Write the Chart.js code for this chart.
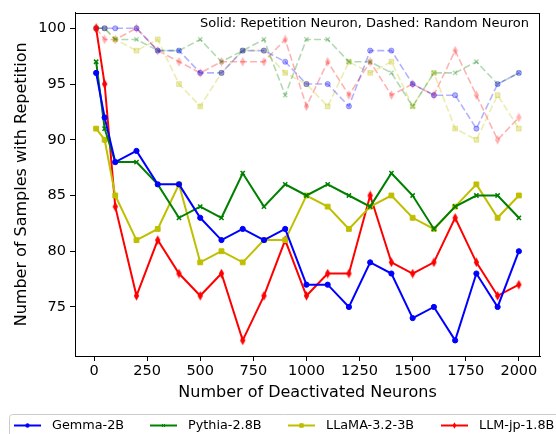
<!DOCTYPE html>
<html><head><meta charset="utf-8">
<script src="https://cdn.jsdelivr.net/npm/chart.js@4/dist/chart.umd.min.js"></script>
<style>html,body{margin:0;padding:0;background:#fff}#wrap{width:556px;height:434px;position:relative}</style>
</head><body><div id="wrap"><canvas id="c" width="556" height="434"></canvas></div>
<script>
const neurons = [10,50,100,200,300,400,500,600,700,800,900,1000,1100,1200,1300,1400,1500,1600,1700,1800,1900,2000];
const xTicks = [0,250,500,750,1000,1250,1500,1750,2000];
const yTicks = [75,80,85,90,95,100];
const models = ['Gemma-2B','Pythia-2.8B','LLaMA-3.2-3B','LLM-jp-1.8B'];

const gemmaRep   = [96,92,88,89,86,86,83,81,82,81,82,77,77,75,79,78,74,75,72,78,75,80];
const pythiaRep  = [97,91,88,88,86,83,84,83,87,84,86,85,86,85,84,87,85,82,84,85,85,83];
const llamaRep   = [91,90,85,81,82,86,79,80,79,81,81,85,84,82,84,85,83,82,84,86,83,85];
const llmjpRep   = [100,95,84,76,81,78,76,78,72,76,81,76,78,78,85,79,78,79,83,79,76,77];

const gemmaRand  = [100,100,100,100,98,98,96,96,98,98,97,95,95,93,98,98,95,94,94,91,95,96];
const pythiaRand = [100,100,99,99,98,98,99,97,98,99,94,99,99,97,97,96,93,96,96,97,95,96];
const llamaRand  = [100,100,99,98,99,95,93,96,98,98,96,95,93,97,96,97,93,96,91,90,94,91];
const llmjpRand  = [100,99,99,100,98,97,96,97,97,97,99,93,97,94,97,94,95,94,98,94,90,92];

const titleX = 'Number of Deactivated Neurons';
const titleY = 'Number of Samples with Repetition';
const noteText = 'Solid: Repetition Neuron, Dashed: Random Neuron';

const colors = ['#0000ff','#008000','#bfbf00','#ff0000'];
const fadedColors = ['rgba(0,0,255,0.3)','rgba(0,128,0,0.3)','rgba(191,191,0,0.3)','rgba(255,0,0,0.3)'];

function diamondImg(color, s){
  const c = document.createElement('canvas');
  c.width = Math.round(7*s); c.height = Math.round(10*s);
  const g = c.getContext('2d');
  g.scale(s,s);
  g.fillStyle = color;
  g.beginPath();
  g.moveTo(3.5,0.3); g.lineTo(6.2,5); g.lineTo(3.5,9.7); g.lineTo(0.8,5); g.closePath();
  g.fill();
  return c;
}
const dSolid = diamondImg(colors[3], 1);
const dFaded = diamondImg(fadedColors[3], 1);
const dLegend = diamondImg(colors[3], 0.7);

const styles = [
  {pointStyle:'circle', pointRadius:2.6},
  {pointStyle:'crossRot', pointRadius:3},
  {pointStyle:'rect', pointRadius:3.4},
  {pointStyle:dSolid, pointRadius:4}
];
const legendStyles = [
  {pointStyle:'circle', pointRadius:1.8},
  {pointStyle:'crossRot', pointRadius:2.2},
  {pointStyle:'rect', pointRadius:2.5},
  {pointStyle:dLegend, pointRadius:3}
];
const rep = [gemmaRep, pythiaRep, llamaRep, llmjpRep];
const rnd = [gemmaRand, pythiaRand, llamaRand, llmjpRand];

function pts(vals){ return neurons.map((x,i)=>({x:x, y:vals[i]})); }

const datasets = [];
models.forEach((m,i)=>{
  datasets.push({
    label: m, data: pts(rep[i]), borderColor: colors[i], backgroundColor: colors[i],
    borderWidth: 2, pointStyle: styles[i].pointStyle, pointRadius: styles[i].pointRadius,
    pointBorderWidth: i===1 ? 1.5 : 1, pointBorderColor: colors[i], pointBackgroundColor: colors[i],
    tension: 0, fill: false
  });
});
models.forEach((m,i)=>{
  datasets.push({
    label: m + ' (random)', data: pts(rnd[i]), borderColor: fadedColors[i], backgroundColor: fadedColors[i],
    borderWidth: 1.6, borderDash: [7,3],
    pointStyle: i===3 ? dFaded : styles[i].pointStyle, pointRadius: styles[i].pointRadius,
    pointBorderWidth: i===1 ? 1.5 : 1, pointBorderColor: fadedColors[i], pointBackgroundColor: fadedColors[i],
    tension: 0, fill: false
  });
});

const FONT = "'DejaVu Sans', sans-serif";

const extras = {
  id: 'extras',
  afterDraw(chart){
    const ctx = chart.ctx, a = chart.chartArea;
    ctx.save();
    ctx.strokeStyle = '#000'; ctx.lineWidth = 1;
    ctx.strokeRect(Math.round(a.left)+0.5, Math.round(a.top)+0.5, Math.round(a.right-a.left)-1, Math.round(a.bottom-a.top));
    // note
    ctx.fillStyle = '#000';
    ctx.font = "13px " + FONT;
    ctx.textAlign = 'right'; ctx.textBaseline = 'middle';
    ctx.fillText(noteText, a.right - 11, a.top + 11);
    // legend
    const ly = 425.5;
    ctx.strokeStyle = '#cccccc'; ctx.lineWidth = 1;
    ctx.beginPath();
    if (ctx.roundRect) ctx.roundRect(9.5, 414.5, 560, 30, 3); else ctx.rect(9.5,414.5,560,30);
    ctx.stroke();
    const lx = [14, 150, 288, 441];
    ctx.font = "12.8px " + FONT;
    ctx.textAlign = 'left';
    models.forEach((m,i)=>{
      ctx.strokeStyle = colors[i]; ctx.lineWidth = 2;
      ctx.beginPath(); ctx.moveTo(lx[i], ly); ctx.lineTo(lx[i]+27, ly); ctx.stroke();
      ctx.fillStyle = colors[i];
      ctx.lineWidth = 1;
      Chart.helpers.drawPoint(ctx, {pointStyle: legendStyles[i].pointStyle, radius: legendStyles[i].pointRadius, borderWidth: 1, rotation: 0}, lx[i]+13.5, ly);
      ctx.fillStyle = '#000';
      ctx.fillText(m, lx[i]+38, ly);
    });
    ctx.restore();
  }
};

new Chart(document.getElementById('c'), {
  type: 'line',
  data: { datasets },
  options: {
    responsive: false, animation: false, devicePixelRatio: 1,
    layout: { padding: { left: 0, right: 16, top: 9, bottom: 30 } },
    plugins: { legend: { display: false }, tooltip: { enabled: false } },
    scales: {
      x: {
        type: 'linear', min: -89.5, max: 2099.5,
        afterBuildTicks(s){ s.ticks = xTicks.map(v=>({value:v})); },
        afterFit(s){ s.height = 48; },
        ticks: { color: '#000', font: { family: FONT, size: 14.5 }, padding: 2, maxRotation: 0, autoSkip: false,
                 callback: v => String(v) },
        grid: { drawOnChartArea: false, drawTicks: true, tickLength: 5, tickColor: '#000', tickWidth: 1 },
        border: { display: true, color: '#000', width: 1 },
        title: { display: true, text: titleX, color: '#000', font: { family: FONT, size: 16 }, padding: { top: 0, bottom: 1.5 } }
      },
      y: {
        type: 'linear', min: 70.6, max: 101.4,
        afterBuildTicks(s){ s.ticks = yTicks.map(v=>({value:v})); },
        afterFit(s){ s.width = 75; },
        ticks: { color: '#000', font: { family: FONT, size: 14.5 }, padding: 4, autoSkip: false,
                 callback: v => String(v) },
        grid: { drawOnChartArea: false, drawTicks: true, tickLength: 5, tickColor: '#000', tickWidth: 1 },
        border: { display: true, color: '#000', width: 1 },
        title: { display: true, text: titleY, color: '#000', font: { family: FONT, size: 16 }, padding: { top: 12, bottom: 0 } }
      }
    }
  },
  plugins: [extras]
});
</script>
</body></html>
